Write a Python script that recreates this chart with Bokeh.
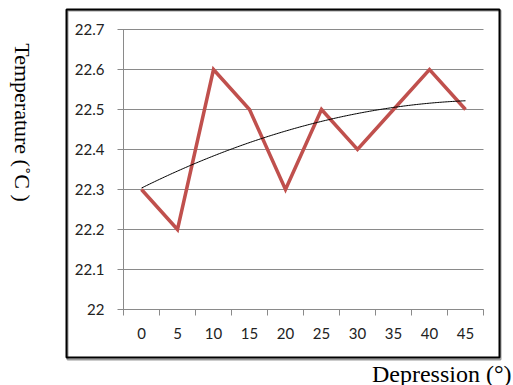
import numpy as np
from bokeh.plotting import figure
from bokeh.models import Range1d, FixedTicker, CustomJSTickFormatter, Label, BoxAnnotation
from bokeh.embed import file_html
from bokeh.resources import INLINE

# Depression angle categories (degrees) and measured temperature (°C)
depression = ["0", "5", "10", "15", "20", "25", "30", "35", "40", "45"]
temperature = [22.3, 22.2, 22.6, 22.5, 22.3, 22.5, 22.4, 22.5, 22.6, 22.5]
y_ticks = [22.0, 22.1, 22.2, 22.3, 22.4, 22.5, 22.6, 22.7]

n = len(depression)
x_pos = np.arange(n) + 0.5          # category centres
x_bounds = list(range(n + 1))       # category boundaries (tick marks)

# 2nd-order polynomial trend line fitted on category index 1..n
idx = np.arange(1, n + 1)
coef = np.polyfit(idx, temperature, 2)
t = np.linspace(1, n, 200)
trend_x = t - 0.5
trend_y = np.polyval(coef, t)

# page geometry (pixels): outer box and inner plotting area
W, H = 513, 385
BOX_L, BOX_R, BOX_T, BOX_B = 66, 499, 9, 357
AREA_L, AREA_R, AREA_T, AREA_B = 123, 483, 29, 309

y0, y1 = y_ticks[0], y_ticks[-1]
px_x = (AREA_R - AREA_L) / n
px_y = (AREA_B - AREA_T) / (y1 - y0)


def sx_to_x(sx):
    return (sx - AREA_L) / px_x


def sy_to_y(sy):
    return y0 + (AREA_B - sy) / px_y


TICK_FONT = "Lato"
TITLE_FONT = "Liberation Serif"
GRID = "#8a8a8a"
TEXT = "#222222"

# the frame fills the whole canvas; axes are pinned inside it
p = figure(width=W, height=H, output_backend="svg", toolbar_location=None,
           x_range=Range1d(sx_to_x(0), sx_to_x(W)),
           y_range=Range1d(sy_to_y(H), sy_to_y(0)),
           min_border=0, min_border_left=0, min_border_right=0,
           min_border_top=0, min_border_bottom=0)
p.outline_line_color = None
p.background_fill_color = "white"
p.border_fill_color = "white"
p.grid.visible = False

# y axis; its inward ticks form the horizontal grid lines
ya = p.yaxis[0]
ya.fixed_location = 0
ya.bounds = (y0, y1)
ya.ticker = FixedTicker(ticks=y_ticks)
ya.formatter = CustomJSTickFormatter(code="return String(Math.round(tick * 10) / 10)")
ya.major_tick_out = 6
ya.major_tick_in = AREA_R - AREA_L
ya.minor_tick_line_color = None
ya.major_tick_line_color = GRID
ya.axis_line_color = GRID
ya.major_label_standoff = 13
ya.major_label_text_font = TICK_FONT
ya.major_label_text_font_size = "15px"
ya.major_label_text_color = TEXT

# x axis: labels at category centres, tick marks at boundaries
xa = p.xaxis[0]
xa.fixed_location = y0
xa.bounds = (0, n)
xa.ticker = FixedTicker(ticks=list(x_pos), minor_ticks=x_bounds)
xa.formatter = CustomJSTickFormatter(args=dict(labels=depression),
                                     code="return labels[Math.floor(tick)]")
xa.major_tick_out = 0
xa.major_tick_in = 0
xa.minor_tick_out = 6
xa.minor_tick_in = 0
xa.minor_tick_line_color = GRID
xa.axis_line_color = GRID
xa.major_label_standoff = 12
xa.major_label_text_font = TICK_FONT
xa.major_label_text_font_size = "15px"
xa.major_label_text_color = TEXT

# chart border with a faint drop shadow along the bottom
p.add_layout(BoxAnnotation(left=sx_to_x(BOX_L + 1), right=sx_to_x(BOX_R + 1),
                           top=sy_to_y(BOX_T + 1), bottom=sy_to_y(BOX_B + 2),
                           fill_color=None, line_color="#9a9a9a", line_alpha=1.0,
                           line_width=2))
p.add_layout(BoxAnnotation(left=sx_to_x(BOX_L), right=sx_to_x(BOX_R),
                           top=sy_to_y(BOX_T), bottom=sy_to_y(BOX_B),
                           fill_color=None, line_color="black", line_alpha=1.0,
                           line_width=2))

p.line(x_pos, temperature, line_color="#C0504D", line_width=3.5,
       line_join="miter", level="overlay")
p.line(trend_x, trend_y, line_color="black", line_width=1, level="overlay")

# axis titles
p.add_layout(Label(x=sx_to_x(22), y=sy_to_y(122), text="Temperature (˚C )",
                   angle=-np.pi / 2, text_align="center", text_baseline="middle",
                   text_font=TITLE_FONT, text_font_size="22px", text_color="black"))
p.add_layout(Label(x=sx_to_x(511), y=sy_to_y(373), text="Depression (°)",
                   text_align="right", text_baseline="middle",
                   text_font=TITLE_FONT, text_font_size="24px", text_color="black"))

open("out.html", "w").write(file_html(p, INLINE))
